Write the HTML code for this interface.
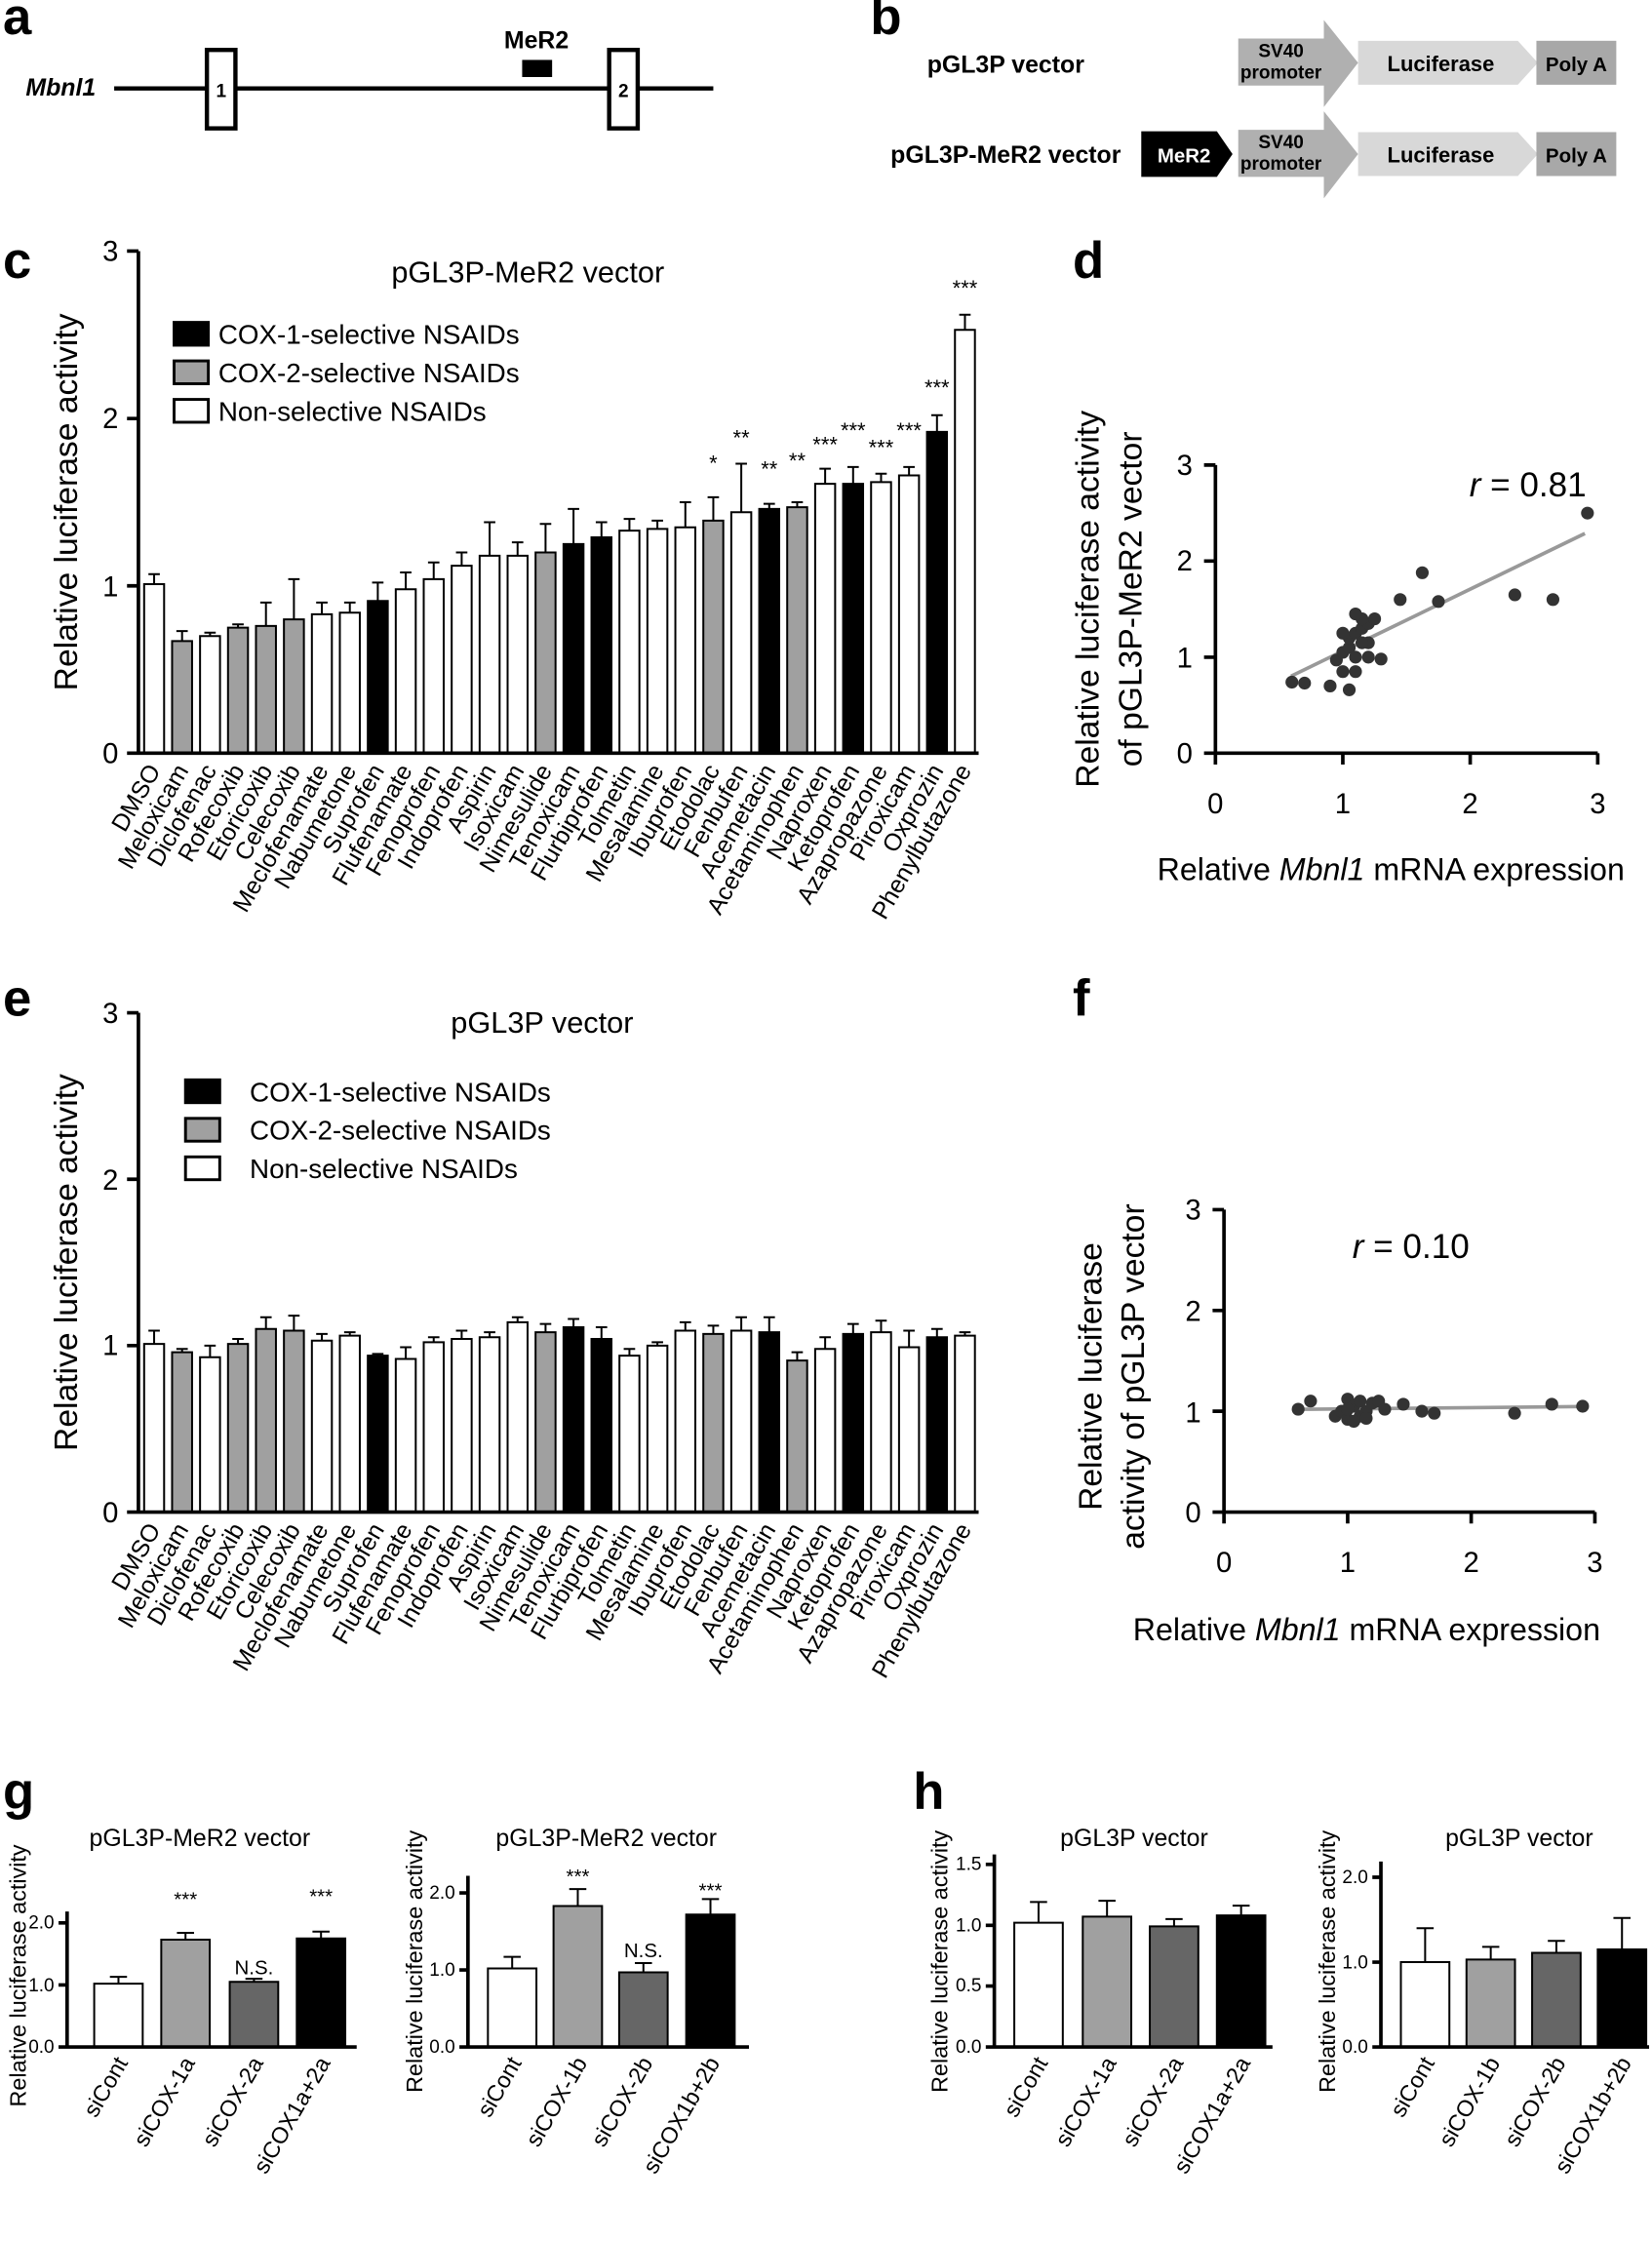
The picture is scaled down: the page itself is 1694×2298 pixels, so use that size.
<!DOCTYPE html>
<html><head><meta charset="utf-8"><style>
html,body{margin:0;padding:0;background:#fff}
svg{display:block}
text{font-family:"Liberation Sans",Arial,sans-serif;fill:#000}
text.wt{fill:#fff}
.ns{vector-effect:non-scaling-stroke}
.W{fill:#fff;stroke:#000;stroke-width:2}
.G{fill:#a0a0a0;stroke:#000;stroke-width:2}
.D{fill:#666;stroke:#000;stroke-width:2}
.B{fill:#000;stroke:#000;stroke-width:2}
.e{stroke:#000;stroke-width:2;fill:none}
.ax{stroke:#000;stroke-width:2.5;fill:none}
.lb{font-size:17px}
.pl{font-size:36px;font-weight:bold}
</style></head><body>
<svg width="1694" height="2298" viewBox="0 0 1158 1571" xmlns="http://www.w3.org/2000/svg">
<!-- panel letters -->
<text x="2" y="24" class="pl">a</text>
<text x="610" y="24" class="pl">b</text>
<text x="2" y="195" class="pl">c</text>
<text x="752" y="195" class="pl">d</text>
<text x="2" y="712" class="pl">e</text>
<text x="752" y="712" class="pl">f</text>
<text x="2" y="1268" class="pl">g</text>
<text x="640" y="1268" class="pl">h</text>

<!-- panel a -->
<text x="18" y="67" font-size="17" font-weight="bold" font-style="italic">Mbnl1</text>
<line x1="80" y1="62" x2="500" y2="62" stroke="#000" stroke-width="3"/>
<rect x="145" y="35" width="20" height="55" fill="#fff" stroke="#000" stroke-width="3"/>
<text x="155" y="68" font-size="13" font-weight="bold" text-anchor="middle">1</text>
<rect x="427" y="35" width="20" height="55" fill="#fff" stroke="#000" stroke-width="3"/>
<text x="437" y="68" font-size="13" font-weight="bold" text-anchor="middle">2</text>
<rect x="366" y="42" width="21" height="12" fill="#000"/>
<text x="376" y="34" font-size="17" font-weight="bold" text-anchor="middle">MeR2</text>

<!-- panel b -->
<text x="705" y="51" font-size="17" font-weight="bold" text-anchor="middle">pGL3P vector</text>
<text x="705" y="114" font-size="17" font-weight="bold" text-anchor="middle">pGL3P-MeR2 vector</text>
<g>
<polygon points="868,27 928,27 928,14 952,44 928,75 928,60 868,60" fill="#b0b0b0"/>
<text x="898" y="40" font-size="13" font-weight="bold" text-anchor="middle">SV40</text>
<text x="898" y="55" font-size="13" font-weight="bold" text-anchor="middle">promoter</text>
<polygon points="952,28.6 1064,28.6 1078,44 1064,59.4 952,59.4" fill="#d8d8d8"/>
<text x="1010" y="50" font-size="15" font-weight="bold" text-anchor="middle">Luciferase</text>
<rect x="1077" y="28.6" width="56" height="30.8" fill="#a8a8a8"/>
<text x="1105" y="50" font-size="14" font-weight="bold" text-anchor="middle">Poly A</text>
</g>
<g transform="translate(0,64)">
<polygon points="800,28 853,28 864,44 853,60 800,60" fill="#000"/>
<text x="830" y="50" font-size="14" font-weight="bold" text-anchor="middle" class="wt">MeR2</text>
<polygon points="868,27 928,27 928,14 952,44 928,75 928,60 868,60" fill="#b0b0b0"/>
<text x="898" y="40" font-size="13" font-weight="bold" text-anchor="middle">SV40</text>
<text x="898" y="55" font-size="13" font-weight="bold" text-anchor="middle">promoter</text>
<polygon points="952,28.6 1064,28.6 1078,44 1064,59.4 952,59.4" fill="#d8d8d8"/>
<text x="1010" y="50" font-size="15" font-weight="bold" text-anchor="middle">Luciferase</text>
<rect x="1077" y="28.6" width="56" height="30.8" fill="#a8a8a8"/>
<text x="1105" y="50" font-size="14" font-weight="bold" text-anchor="middle">Poly A</text>
</g>

<!-- panel c -->
<g transform="translate(0,528) scale(1,-117.3)">
<rect class="W ns" x="101" y="0" width="14" height="1.01"/><path class="e ns" d="M108 1.01V1.07M104 1.07H112"/>
<rect class="G ns" x="120.6" y="0" width="14" height="0.67"/><path class="e ns" d="M127.6 .67V.73M123.6 .73H131.6"/>
<rect class="W ns" x="140.2" y="0" width="14" height="0.70"/><path class="e ns" d="M147.2 .70V.72M143.2 .72H151.2"/>
<rect class="G ns" x="159.8" y="0" width="14" height="0.75"/><path class="e ns" d="M166.8 .75V.77M162.8 .77H170.8"/>
<rect class="G ns" x="179.4" y="0" width="14" height="0.76"/><path class="e ns" d="M186.4 .76V.90M182.4 .90H190.4"/>
<rect class="G ns" x="199" y="0" width="14" height="0.80"/><path class="e ns" d="M206 .80V1.04M202 1.04H210"/>
<rect class="W ns" x="218.6" y="0" width="14" height="0.83"/><path class="e ns" d="M225.6 .83V.90M221.6 .90H229.6"/>
<rect class="W ns" x="238.2" y="0" width="14" height="0.84"/><path class="e ns" d="M245.2 .84V.90M241.2 .90H249.2"/>
<rect class="B ns" x="257.8" y="0" width="14" height="0.91"/><path class="e ns" d="M264.8 .91V1.02M260.8 1.02H268.8"/>
<rect class="W ns" x="277.4" y="0" width="14" height="0.98"/><path class="e ns" d="M284.4 .98V1.08M280.4 1.08H288.4"/>
<rect class="W ns" x="297" y="0" width="14" height="1.04"/><path class="e ns" d="M304 1.04V1.14M300 1.14H308"/>
<rect class="W ns" x="316.6" y="0" width="14" height="1.12"/><path class="e ns" d="M323.6 1.12V1.20M319.6 1.20H327.6"/>
<rect class="W ns" x="336.2" y="0" width="14" height="1.18"/><path class="e ns" d="M343.2 1.18V1.38M339.2 1.38H347.2"/>
<rect class="W ns" x="355.8" y="0" width="14" height="1.18"/><path class="e ns" d="M362.8 1.18V1.26M358.8 1.26H366.8"/>
<rect class="G ns" x="375.4" y="0" width="14" height="1.20"/><path class="e ns" d="M382.4 1.20V1.37M378.4 1.37H386.4"/>
<rect class="B ns" x="395" y="0" width="14" height="1.25"/><path class="e ns" d="M402 1.25V1.46M398 1.46H406"/>
<rect class="B ns" x="414.6" y="0" width="14" height="1.29"/><path class="e ns" d="M421.6 1.29V1.38M417.6 1.38H425.6"/>
<rect class="W ns" x="434.2" y="0" width="14" height="1.33"/><path class="e ns" d="M441.2 1.33V1.40M437.2 1.40H445.2"/>
<rect class="W ns" x="453.8" y="0" width="14" height="1.34"/><path class="e ns" d="M460.8 1.34V1.39M456.8 1.39H464.8"/>
<rect class="W ns" x="473.4" y="0" width="14" height="1.35"/><path class="e ns" d="M480.4 1.35V1.50M476.4 1.50H484.4"/>
<rect class="G ns" x="493" y="0" width="14" height="1.39"/><path class="e ns" d="M500 1.39V1.53M496 1.53H504"/>
<rect class="W ns" x="512.6" y="0" width="14" height="1.44"/><path class="e ns" d="M519.6 1.44V1.73M515.6 1.73H523.6"/>
<rect class="B ns" x="532.2" y="0" width="14" height="1.46"/><path class="e ns" d="M539.2 1.46V1.49M535.2 1.49H543.2"/>
<rect class="G ns" x="551.8" y="0" width="14" height="1.47"/><path class="e ns" d="M558.8 1.47V1.50M554.8 1.50H562.8"/>
<rect class="W ns" x="571.4" y="0" width="14" height="1.61"/><path class="e ns" d="M578.4 1.61V1.70M574.4 1.70H582.4"/>
<rect class="B ns" x="591" y="0" width="14" height="1.61"/><path class="e ns" d="M598 1.61V1.71M594 1.71H602"/>
<rect class="W ns" x="610.6" y="0" width="14" height="1.62"/><path class="e ns" d="M617.6 1.62V1.67M613.6 1.67H621.6"/>
<rect class="W ns" x="630.2" y="0" width="14" height="1.66"/><path class="e ns" d="M637.2 1.66V1.71M633.2 1.71H641.2"/>
<rect class="B ns" x="649.8" y="0" width="14" height="1.92"/><path class="e ns" d="M656.8 1.92V2.02M652.8 2.02H660.8"/>
<rect class="W ns" x="669.4" y="0" width="14" height="2.53"/><path class="e ns" d="M676.4 2.53V2.62M672.4 2.62H680.4"/>
</g>
<path class="ax" d="M97 176V528H686M89 176H97M89 293.4H97M89 410.7H97M89 528H97"/>
<g font-size="20" text-anchor="end">
<text x="83" y="183">3</text><text x="83" y="300">2</text><text x="83" y="418">1</text><text x="83" y="535">0</text>
</g>
<text transform="translate(54,352) rotate(-90)" font-size="23" text-anchor="middle">Relative luciferase activity</text>
<text x="370" y="198" font-size="21" text-anchor="middle">pGL3P-MeR2 vector</text>
<rect x="122" y="226" width="24" height="16" class="B"/><text x="153" y="241" font-size="19">COX-1-selective NSAIDs</text>
<rect x="122" y="253" width="24" height="16" class="G"/><text x="153" y="268" font-size="19">COX-2-selective NSAIDs</text>
<rect x="122" y="280" width="24" height="16" class="W"/><text x="153" y="295" font-size="19">Non-selective NSAIDs</text>
<g font-size="15" text-anchor="middle">
<text x="500" y="330">*</text><text x="519.6" y="312">**</text><text x="539.2" y="334">**</text><text x="558.8" y="328">**</text>
<text x="578.4" y="317">***</text><text x="598" y="307">***</text><text x="617.6" y="319">***</text><text x="637.2" y="307">***</text>
<text x="656.8" y="277">***</text><text x="676.4" y="207">***</text>
</g>
<g class="lb" text-anchor="end">
<text transform="translate(113,540) rotate(-60)">DMSO</text>
<text transform="translate(132.6,540) rotate(-60)">Meloxicam</text>
<text transform="translate(152.2,540) rotate(-60)">Diclofenac</text>
<text transform="translate(171.8,540) rotate(-60)">Rofecoxib</text>
<text transform="translate(191.4,540) rotate(-60)">Etoricoxib</text>
<text transform="translate(211,540) rotate(-60)">Celecoxib</text>
<text transform="translate(230.6,540) rotate(-60)">Meclofenamate</text>
<text transform="translate(250.2,540) rotate(-60)">Nabumetone</text>
<text transform="translate(269.8,540) rotate(-60)">Suprofen</text>
<text transform="translate(289.4,540) rotate(-60)">Flufenamate</text>
<text transform="translate(309,540) rotate(-60)">Fenoprofen</text>
<text transform="translate(328.6,540) rotate(-60)">Indoprofen</text>
<text transform="translate(348.2,540) rotate(-60)">Aspirin</text>
<text transform="translate(367.8,540) rotate(-60)">Isoxicam</text>
<text transform="translate(387.4,540) rotate(-60)">Nimesulide</text>
<text transform="translate(407,540) rotate(-60)">Tenoxicam</text>
<text transform="translate(426.6,540) rotate(-60)">Flurbiprofen</text>
<text transform="translate(446.2,540) rotate(-60)">Tolmetin</text>
<text transform="translate(465.8,540) rotate(-60)">Mesalamine</text>
<text transform="translate(485.4,540) rotate(-60)">Ibuprofen</text>
<text transform="translate(505,540) rotate(-60)">Etodolac</text>
<text transform="translate(524.6,540) rotate(-60)">Fenbufen</text>
<text transform="translate(544.2,540) rotate(-60)">Acemetacin</text>
<text transform="translate(563.8,540) rotate(-60)">Acetaminophen</text>
<text transform="translate(583.4,540) rotate(-60)">Naproxen</text>
<text transform="translate(603,540) rotate(-60)">Ketoprofen</text>
<text transform="translate(622.6,540) rotate(-60)">Azapropazone</text>
<text transform="translate(642.2,540) rotate(-60)">Piroxicam</text>
<text transform="translate(661.8,540) rotate(-60)">Oxprozin</text>
<text transform="translate(681.4,540) rotate(-60)">Phenylbutazone</text>
</g>

<!-- panel e -->
<g transform="translate(0,1060) scale(1,-116.7)">
<rect class="W ns" x="101" y="0" width="14" height="1.01"/><path class="e ns" d="M108 1.01V1.09M104 1.09H112"/>
<rect class="G ns" x="120.6" y="0" width="14" height="0.96"/><path class="e ns" d="M127.6 .96V.98M123.6 .98H131.6"/>
<rect class="W ns" x="140.2" y="0" width="14" height="0.93"/><path class="e ns" d="M147.2 .93V1.0M143.2 1.0H151.2"/>
<rect class="G ns" x="159.8" y="0" width="14" height="1.01"/><path class="e ns" d="M166.8 1.01V1.04M162.8 1.04H170.8"/>
<rect class="G ns" x="179.4" y="0" width="14" height="1.10"/><path class="e ns" d="M186.4 1.10V1.17M182.4 1.17H190.4"/>
<rect class="G ns" x="199" y="0" width="14" height="1.09"/><path class="e ns" d="M206 1.09V1.18M202 1.18H210"/>
<rect class="W ns" x="218.6" y="0" width="14" height="1.03"/><path class="e ns" d="M225.6 1.03V1.07M221.6 1.07H229.6"/>
<rect class="W ns" x="238.2" y="0" width="14" height="1.06"/><path class="e ns" d="M245.2 1.06V1.08M241.2 1.08H249.2"/>
<rect class="B ns" x="257.8" y="0" width="14" height="0.94"/><path class="e ns" d="M264.8 .94V.95M260.8 .95H268.8"/>
<rect class="W ns" x="277.4" y="0" width="14" height="0.92"/><path class="e ns" d="M284.4 .92V.99M280.4 .99H288.4"/>
<rect class="W ns" x="297" y="0" width="14" height="1.02"/><path class="e ns" d="M304 1.02V1.05M300 1.05H308"/>
<rect class="W ns" x="316.6" y="0" width="14" height="1.04"/><path class="e ns" d="M323.6 1.04V1.09M319.6 1.09H327.6"/>
<rect class="W ns" x="336.2" y="0" width="14" height="1.05"/><path class="e ns" d="M343.2 1.05V1.08M339.2 1.08H347.2"/>
<rect class="W ns" x="355.8" y="0" width="14" height="1.14"/><path class="e ns" d="M362.8 1.14V1.17M358.8 1.17H366.8"/>
<rect class="G ns" x="375.4" y="0" width="14" height="1.08"/><path class="e ns" d="M382.4 1.08V1.13M378.4 1.13H386.4"/>
<rect class="B ns" x="395" y="0" width="14" height="1.11"/><path class="e ns" d="M402 1.11V1.16M398 1.16H406"/>
<rect class="B ns" x="414.6" y="0" width="14" height="1.04"/><path class="e ns" d="M421.6 1.04V1.11M417.6 1.11H425.6"/>
<rect class="W ns" x="434.2" y="0" width="14" height="0.94"/><path class="e ns" d="M441.2 .94V.98M437.2 .98H445.2"/>
<rect class="W ns" x="453.8" y="0" width="14" height="1.00"/><path class="e ns" d="M460.8 1.0V1.02M456.8 1.02H464.8"/>
<rect class="W ns" x="473.4" y="0" width="14" height="1.09"/><path class="e ns" d="M480.4 1.09V1.14M476.4 1.14H484.4"/>
<rect class="G ns" x="493" y="0" width="14" height="1.07"/><path class="e ns" d="M500 1.07V1.12M496 1.12H504"/>
<rect class="W ns" x="512.6" y="0" width="14" height="1.09"/><path class="e ns" d="M519.6 1.09V1.17M515.6 1.17H523.6"/>
<rect class="B ns" x="532.2" y="0" width="14" height="1.08"/><path class="e ns" d="M539.2 1.08V1.17M535.2 1.17H543.2"/>
<rect class="G ns" x="551.8" y="0" width="14" height="0.91"/><path class="e ns" d="M558.8 .91V.96M554.8 .96H562.8"/>
<rect class="W ns" x="571.4" y="0" width="14" height="0.98"/><path class="e ns" d="M578.4 .98V1.05M574.4 1.05H582.4"/>
<rect class="B ns" x="591" y="0" width="14" height="1.07"/><path class="e ns" d="M598 1.07V1.13M594 1.13H602"/>
<rect class="W ns" x="610.6" y="0" width="14" height="1.08"/><path class="e ns" d="M617.6 1.08V1.15M613.6 1.15H621.6"/>
<rect class="W ns" x="630.2" y="0" width="14" height="0.99"/><path class="e ns" d="M637.2 .99V1.09M633.2 1.09H641.2"/>
<rect class="B ns" x="649.8" y="0" width="14" height="1.05"/><path class="e ns" d="M656.8 1.05V1.10M652.8 1.10H660.8"/>
<rect class="W ns" x="669.4" y="0" width="14" height="1.06"/><path class="e ns" d="M676.4 1.06V1.08M672.4 1.08H680.4"/>
</g>
<path class="ax" d="M97 710V1060H686M89 710H97M89 826.7H97M89 943.3H97M89 1060H97"/>
<g font-size="20" text-anchor="end">
<text x="83" y="717">3</text><text x="83" y="834">2</text><text x="83" y="950">1</text><text x="83" y="1067">0</text>
</g>
<text transform="translate(54,885) rotate(-90)" font-size="23" text-anchor="middle">Relative luciferase activity</text>
<text x="380" y="724" font-size="21" text-anchor="middle">pGL3P vector</text>
<rect x="130" y="757" width="24" height="16" class="B"/><text x="175" y="772" font-size="19">COX-1-selective NSAIDs</text>
<rect x="130" y="784" width="24" height="16" class="G"/><text x="175" y="799" font-size="19">COX-2-selective NSAIDs</text>
<rect x="130" y="811" width="24" height="16" class="W"/><text x="175" y="826" font-size="19">Non-selective NSAIDs</text>
<g class="lb" text-anchor="end">
<text transform="translate(113,1072) rotate(-60)">DMSO</text>
<text transform="translate(132.6,1072) rotate(-60)">Meloxicam</text>
<text transform="translate(152.2,1072) rotate(-60)">Diclofenac</text>
<text transform="translate(171.8,1072) rotate(-60)">Rofecoxib</text>
<text transform="translate(191.4,1072) rotate(-60)">Etoricoxib</text>
<text transform="translate(211,1072) rotate(-60)">Celecoxib</text>
<text transform="translate(230.6,1072) rotate(-60)">Meclofenamate</text>
<text transform="translate(250.2,1072) rotate(-60)">Nabumetone</text>
<text transform="translate(269.8,1072) rotate(-60)">Suprofen</text>
<text transform="translate(289.4,1072) rotate(-60)">Flufenamate</text>
<text transform="translate(309,1072) rotate(-60)">Fenoprofen</text>
<text transform="translate(328.6,1072) rotate(-60)">Indoprofen</text>
<text transform="translate(348.2,1072) rotate(-60)">Aspirin</text>
<text transform="translate(367.8,1072) rotate(-60)">Isoxicam</text>
<text transform="translate(387.4,1072) rotate(-60)">Nimesulide</text>
<text transform="translate(407,1072) rotate(-60)">Tenoxicam</text>
<text transform="translate(426.6,1072) rotate(-60)">Flurbiprofen</text>
<text transform="translate(446.2,1072) rotate(-60)">Tolmetin</text>
<text transform="translate(465.8,1072) rotate(-60)">Mesalamine</text>
<text transform="translate(485.4,1072) rotate(-60)">Ibuprofen</text>
<text transform="translate(505,1072) rotate(-60)">Etodolac</text>
<text transform="translate(524.6,1072) rotate(-60)">Fenbufen</text>
<text transform="translate(544.2,1072) rotate(-60)">Acemetacin</text>
<text transform="translate(563.8,1072) rotate(-60)">Acetaminophen</text>
<text transform="translate(583.4,1072) rotate(-60)">Naproxen</text>
<text transform="translate(603,1072) rotate(-60)">Ketoprofen</text>
<text transform="translate(622.6,1072) rotate(-60)">Azapropazone</text>
<text transform="translate(642.2,1072) rotate(-60)">Piroxicam</text>
<text transform="translate(661.8,1072) rotate(-60)">Oxprozin</text>
<text transform="translate(681.4,1072) rotate(-60)">Phenylbutazone</text>
</g>

<!-- panel d -->
<path class="ax" d="M852 326V528H1120M844 326H852M844 393.3H852M844 460.7H852M844 528H852M852 528V536M941.3 528V536M1030.6 528V536M1120 528V536"/>
<g font-size="20" text-anchor="end">
<text x="836" y="333">3</text><text x="836" y="400">2</text><text x="836" y="468">1</text><text x="836" y="535">0</text>
</g>
<g font-size="20" text-anchor="middle">
<text x="852" y="570">0</text><text x="941.3" y="570">1</text><text x="1030.6" y="570">2</text><text x="1120" y="570">3</text>
</g>
<text transform="translate(770,420) rotate(-90)" font-size="23" text-anchor="middle">Relative luciferase activity</text>
<text transform="translate(800,420) rotate(-90)" font-size="23" text-anchor="middle">of pGL3P-MeR2 vector</text>
<text x="975" y="617" font-size="22" text-anchor="middle">Relative <tspan font-style="italic">Mbnl1</tspan> mRNA expression</text>
<text x="1030" y="348" font-size="24"><tspan font-style="italic">r</tspan> = 0.81</text>
<line x1="905" y1="474" x2="1111" y2="374" stroke="#999" stroke-width="2.5"/>
<g fill="#333">
<circle cx="905.6" cy="478.2" r="4.5"/><circle cx="914.5" cy="478.9" r="4.5"/><circle cx="932.4" cy="480.9" r="4.5"/>
<circle cx="941.3" cy="470.8" r="4.5"/><circle cx="936.8" cy="462.7" r="4.5"/><circle cx="941.3" cy="457.3" r="4.5"/>
<circle cx="945.8" cy="454" r="4.5"/><circle cx="950.2" cy="460.7" r="4.5"/><circle cx="945.8" cy="447.2" r="4.5"/>
<circle cx="950.2" cy="443.9" r="4.5"/><circle cx="954.7" cy="440.5" r="4.5"/><circle cx="959.2" cy="437.1" r="4.5"/>
<circle cx="941.3" cy="443.9" r="4.5"/><circle cx="954.7" cy="433.8" r="4.5"/><circle cx="950.2" cy="430.4" r="4.5"/>
<circle cx="963.6" cy="433.8" r="4.5"/><circle cx="959.2" cy="450.6" r="4.5"/><circle cx="950.2" cy="470.8" r="4.5"/>
<circle cx="945.8" cy="483.6" r="4.5"/><circle cx="959.2" cy="460.7" r="4.5"/><circle cx="968.1" cy="462" r="4.5"/>
<circle cx="981.5" cy="420.3" r="4.5"/><circle cx="997" cy="401.5" r="4.5"/><circle cx="1008.3" cy="421.7" r="4.5"/>
<circle cx="1061.9" cy="417" r="4.5"/><circle cx="1088.6" cy="420.3" r="4.5"/><circle cx="1112.8" cy="359.7" r="4.5"/>
<circle cx="954.7" cy="450.6" r="4.5"/>
</g>

<!-- panel f -->
<path class="ax" d="M858 848V1060H1118M850 848H858M850 918.7H858M850 989.3H858M850 1060H858M858 1060V1068M944.7 1060V1068M1031.3 1060V1068M1118 1060V1068"/>
<g font-size="20" text-anchor="end">
<text x="842" y="855">3</text><text x="842" y="926">2</text><text x="842" y="997">1</text><text x="842" y="1067">0</text>
</g>
<g font-size="20" text-anchor="middle">
<text x="858" y="1102">0</text><text x="944.7" y="1102">1</text><text x="1031.3" y="1102">2</text><text x="1118" y="1102">3</text>
</g>
<text transform="translate(772,965) rotate(-90)" font-size="23" text-anchor="middle">Relative luciferase</text>
<text transform="translate(802,965) rotate(-90)" font-size="23" text-anchor="middle">activity of pGL3P vector</text>
<text x="958" y="1150" font-size="22" text-anchor="middle">Relative <tspan font-style="italic">Mbnl1</tspan> mRNA expression</text>
<text x="948" y="882" font-size="24"><tspan font-style="italic">r</tspan> = 0.10</text>
<line x1="910" y1="988" x2="1110" y2="986" stroke="#999" stroke-width="2.5"/>
<g fill="#333">
<circle cx="910" cy="987.9" r="4.5"/><circle cx="918.7" cy="982.2" r="4.5"/><circle cx="936" cy="992.8" r="4.5"/>
<circle cx="940.4" cy="989.3" r="4.5"/><circle cx="944.7" cy="980.8" r="4.5"/><circle cx="944.7" cy="995" r="4.5"/>
<circle cx="949" cy="985.8" r="4.5"/><circle cx="953.4" cy="992.8" r="4.5"/><circle cx="953.4" cy="982.2" r="4.5"/>
<circle cx="957.7" cy="989.3" r="4.5"/><circle cx="962" cy="983.6" r="4.5"/><circle cx="966.4" cy="982.2" r="4.5"/>
<circle cx="944.7" cy="987.9" r="4.5"/><circle cx="970.7" cy="987.9" r="4.5"/><circle cx="983.7" cy="984.4" r="4.5"/>
<circle cx="996.7" cy="989.3" r="4.5"/><circle cx="1005.4" cy="990.7" r="4.5"/><circle cx="1061.7" cy="990.7" r="4.5"/>
<circle cx="1087.8" cy="984.4" r="4.5"/><circle cx="1109.4" cy="985.8" r="4.5"/><circle cx="949" cy="996.4" r="4.5"/>
<circle cx="957.7" cy="994.3" r="4.5"/>
</g>

<!-- panel g left -->
<text x="140" y="1294" font-size="17" text-anchor="middle">pGL3P-MeR2 vector</text>
<g transform="translate(0,1435) scale(1,-43.5)">
<rect class="W ns" x="66" y="0" width="34" height="1.02"/><path class="e ns" d="M83 1.02V1.13M77 1.13H89"/>
<rect class="G ns" x="113" y="0" width="34" height="1.73"/><path class="e ns" d="M130 1.73V1.84M124 1.84H136"/>
<rect class="D ns" x="161" y="0" width="34" height="1.05"/><path class="e ns" d="M178 1.05V1.10M172 1.10H184"/>
<rect class="B ns" x="208" y="0" width="34" height="1.75"/><path class="e ns" d="M225 1.75V1.86M219 1.86H231"/>
</g>
<path class="ax" d="M47 1340V1435H250M41 1348H47M41 1391.5H47M41 1435H47"/>
<g font-size="13" text-anchor="end"><text x="38" y="1352">2.0</text><text x="38" y="1396">1.0</text><text x="38" y="1439">0.0</text></g>
<text transform="translate(18,1385) rotate(-90)" font-size="16" text-anchor="middle">Relative luciferase activity</text>
<g font-size="14" text-anchor="middle"><text x="130" y="1336">***</text><text x="178" y="1384">N.S.</text><text x="225" y="1334">***</text></g>
<g font-size="16" text-anchor="end">
<text transform="translate(90,1446) rotate(-60)">siCont</text>
<text transform="translate(137,1446) rotate(-60)">siCOX-1a</text>
<text transform="translate(185,1446) rotate(-60)">siCOX-2a</text>
<text transform="translate(232,1446) rotate(-60)">siCOX1a+2a</text>
</g>

<!-- panel g right -->
<text x="425" y="1294" font-size="17" text-anchor="middle">pGL3P-MeR2 vector</text>
<g transform="translate(0,1435) scale(1,-54)">
<rect class="W ns" x="342" y="0" width="34" height="1.02"/><path class="e ns" d="M359 1.02V1.17M353 1.17H365"/>
<rect class="G ns" x="388" y="0" width="34" height="1.83"/><path class="e ns" d="M405 1.83V2.05M399 2.05H411"/>
<rect class="D ns" x="434" y="0" width="34" height="0.97"/><path class="e ns" d="M451 .97V1.09M445 1.09H457"/>
<rect class="B ns" x="481" y="0" width="34" height="1.72"/><path class="e ns" d="M498 1.72V1.92M492 1.92H504"/>
</g>
<path class="ax" d="M328 1315V1435H525M322 1327H328M322 1381H328M322 1435H328"/>
<g font-size="13" text-anchor="end"><text x="319" y="1331">2.0</text><text x="319" y="1385">1.0</text><text x="319" y="1439">0.0</text></g>
<text transform="translate(296,1375) rotate(-90)" font-size="16" text-anchor="middle">Relative luciferase activity</text>
<g font-size="14" text-anchor="middle"><text x="405" y="1320">***</text><text x="451" y="1372">N.S.</text><text x="498" y="1330">***</text></g>
<g font-size="16" text-anchor="end">
<text transform="translate(366,1446) rotate(-60)">siCont</text>
<text transform="translate(412,1446) rotate(-60)">siCOX-1b</text>
<text transform="translate(458,1446) rotate(-60)">siCOX-2b</text>
<text transform="translate(505,1446) rotate(-60)">siCOX1b+2b</text>
</g>

<!-- panel h left -->
<text x="795" y="1294" font-size="17" text-anchor="middle">pGL3P vector</text>
<g transform="translate(0,1435) scale(1,-85.4)">
<rect class="W ns" x="711" y="0" width="34" height="1.02"/><path class="e ns" d="M728 1.02V1.19M722 1.19H734"/>
<rect class="G ns" x="759" y="0" width="34" height="1.07"/><path class="e ns" d="M776 1.07V1.20M770 1.20H782"/>
<rect class="D ns" x="806" y="0" width="34" height="0.99"/><path class="e ns" d="M823 .99V1.05M817 1.05H829"/>
<rect class="B ns" x="853" y="0" width="34" height="1.08"/><path class="e ns" d="M870 1.08V1.16M864 1.16H876"/>
</g>
<path class="ax" d="M697 1300V1435H892M691 1307H697M691 1349.7H697M691 1392.3H697M691 1435H697"/>
<g font-size="13" text-anchor="end"><text x="688" y="1311">1.5</text><text x="688" y="1354">1.0</text><text x="688" y="1396">0.5</text><text x="688" y="1439">0.0</text></g>
<text transform="translate(664,1375) rotate(-90)" font-size="16" text-anchor="middle">Relative luciferase activity</text>
<g font-size="16" text-anchor="end">
<text transform="translate(735,1446) rotate(-60)">siCont</text>
<text transform="translate(783,1446) rotate(-60)">siCOX-1a</text>
<text transform="translate(830,1446) rotate(-60)">siCOX-2a</text>
<text transform="translate(877,1446) rotate(-60)">siCOX1a+2a</text>
</g>

<!-- panel h right -->
<text x="1065" y="1294" font-size="17" text-anchor="middle">pGL3P vector</text>
<g transform="translate(0,1435) scale(1,-59.5)">
<rect class="W ns" x="982" y="0" width="34" height="1.0"/><path class="e ns" d="M999 1.0V1.40M993 1.40H1005"/>
<rect class="G ns" x="1028" y="0" width="34" height="1.03"/><path class="e ns" d="M1045 1.03V1.18M1039 1.18H1051"/>
<rect class="D ns" x="1074" y="0" width="34" height="1.11"/><path class="e ns" d="M1091 1.11V1.25M1085 1.25H1097"/>
<rect class="B ns" x="1120" y="0" width="34" height="1.15"/><path class="e ns" d="M1137 1.15V1.52M1131 1.52H1143"/>
</g>
<path class="ax" d="M968 1305V1435H1156M962 1316H968M962 1375.5H968M962 1435H968"/>
<g font-size="13" text-anchor="end"><text x="959" y="1320">2.0</text><text x="959" y="1380">1.0</text><text x="959" y="1439">0.0</text></g>
<text transform="translate(936,1375) rotate(-90)" font-size="16" text-anchor="middle">Relative luciferase activity</text>
<g font-size="16" text-anchor="end">
<text transform="translate(1006,1446) rotate(-60)">siCont</text>
<text transform="translate(1052,1446) rotate(-60)">siCOX-1b</text>
<text transform="translate(1098,1446) rotate(-60)">siCOX-2b</text>
<text transform="translate(1144,1446) rotate(-60)">siCOX1b+2b</text>
</g>
</svg>
</body></html>
